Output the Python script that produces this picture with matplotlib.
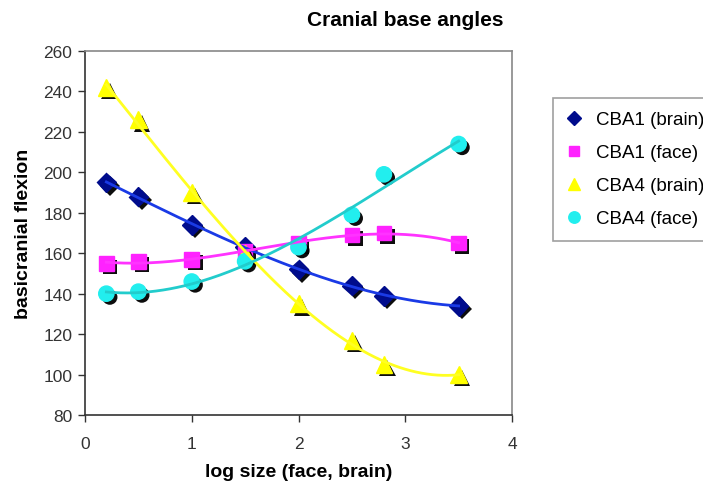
import numpy as np
import matplotlib
matplotlib.use('Agg')
import matplotlib.pyplot as plt
import matplotlib.patheffects as pe
from matplotlib.lines import Line2D

plt.rcParams['font.family'] = ['Liberation Sans', 'DejaVu Sans']

# data
log_size = [0.2, 0.5, 1.0, 1.5, 2.0, 2.5, 2.8, 3.5]
cba1_brain = [195, 188, 174, 163, 152, 144, 139, 134]
cba1_face = [155, 156, 157, 161, 165, 169, 170, 165]
cba4_brain = [242, 226, 190, 160, 135, 117, 105, 100]
cba4_face = [140, 141, 146, 156, 163, 179, 199, 214]

labels = ['CBA1 (brain)', 'CBA1 (face)', 'CBA4 (brain)', 'CBA4 (face)']
series = [cba1_brain, cba1_face, cba4_brain, cba4_face]
markers = ['D', 's', '^', 'o']
face_colors = ['#000c8c', '#ff22ff', '#ffff00', '#22eeee']
line_colors = ['#1a3ae6', '#ff33ff', '#ffff22', '#22cccc']
msizes = [10, 10.5, 12, 11]

fig = plt.figure(figsize=(7.03, 4.85), dpi=100)
ax = fig.add_axes([85 / 703, 1 - 416 / 485, (512 - 85) / 703, (416 - 52) / 485])

shadow = [pe.SimplePatchShadow(offset=(2.5, -2.5), shadow_rgbFace='k', alpha=0.95), pe.Normal()]

xs = np.linspace(min(log_size), max(log_size), 200)
for y, m, fc, lc, ms in zip(series, markers, face_colors, line_colors, msizes):
    # polynomial trendline like the spreadsheet one
    coef = np.polyfit(log_size, y, 3)
    ax.plot(log_size, y, linestyle='none', marker=m, markersize=ms,
            markerfacecolor=fc, markeredgecolor=fc, path_effects=shadow, zorder=3)
    ax.plot(xs, np.polyval(coef, xs), color=lc, linewidth=2, zorder=4)

ax.set_xlim(0, 4)
ax.set_ylim(80, 260)
ax.set_xticks([0, 1, 2, 3, 4])
ax.set_yticks(np.arange(80, 261, 20))
ax.tick_params(direction='out', length=5, width=1, labelsize=12.5, colors='#333333')
ax.tick_params(axis='x', pad=10)
ax.tick_params(axis='y', pad=4)
for s in ['left', 'bottom']:
    ax.spines[s].set_color('#333333')
    ax.spines[s].set_linewidth(1.2)
for s in ['top', 'right']:
    ax.spines[s].set_color('#888888')
    ax.spines[s].set_linewidth(1.2)

ax.set_xlabel('log size (face, brain)', fontsize=14, fontweight='bold', labelpad=9)
ax.set_ylabel('basicranial flexion', fontsize=14, fontweight='bold', labelpad=8)
fig.text(405 / 703, 1 - 21 / 485, 'Cranial base angles', fontsize=15, fontweight='bold',
         ha='center', va='center')

handles = [Line2D([], [], linestyle='none', marker=m, markersize=ms * 0.75,
                  markerfacecolor=fc, markeredgecolor=fc)
           for m, fc, ms in zip(markers, face_colors, msizes)]
leg = fig.legend(handles, labels, loc='upper left', bbox_to_anchor=(553 / 703, 1 - 99 / 485),
                 fontsize=13.5, frameon=True, fancybox=False, labelspacing=0.85,
                 handlelength=0.8, handletextpad=0.8, borderpad=0.7, borderaxespad=0)
leg.get_frame().set_edgecolor('#888888')
leg.get_frame().set_linewidth(1.2)

fig.savefig('out.png', dpi=100)
